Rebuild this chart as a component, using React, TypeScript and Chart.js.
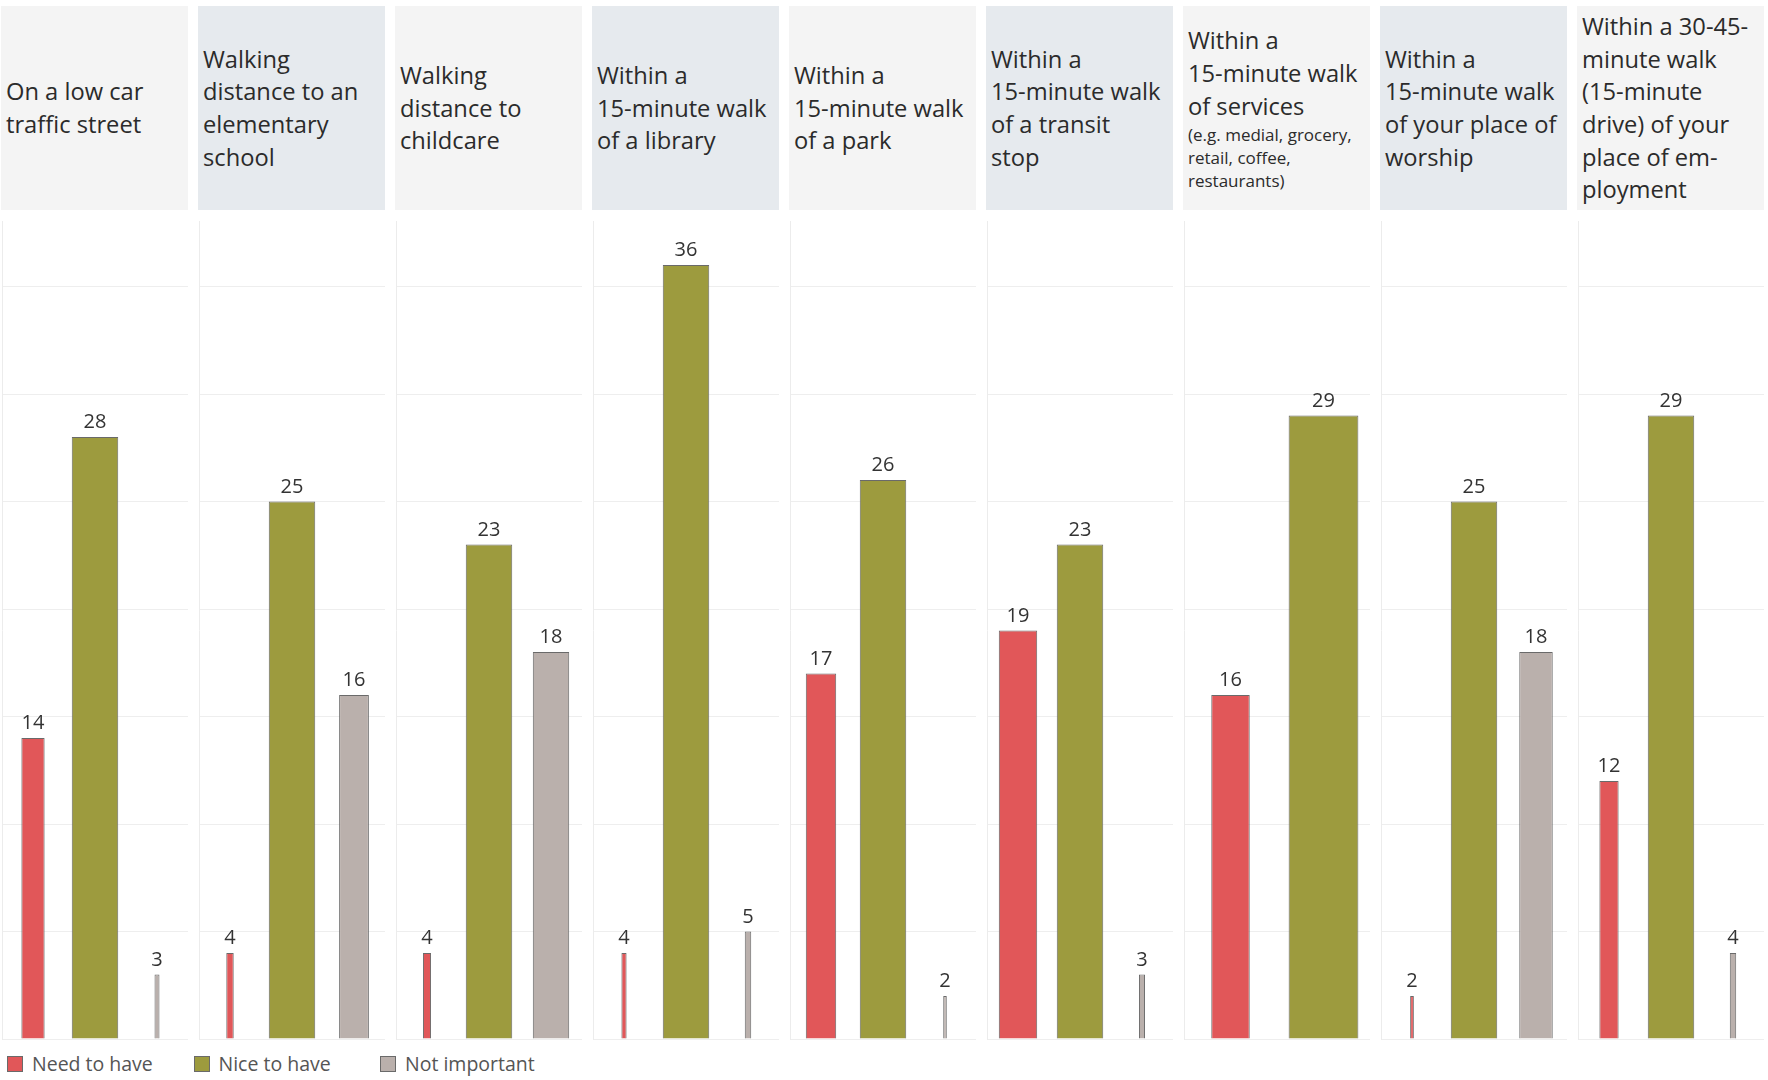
import React, { useEffect, useRef } from "react";
import { Chart, registerables } from "chart.js";

Chart.register(...registerables);

// ---------- data ----------
const seriesNames = ["Need to have", "Nice to have", "Not important"];
const seriesColors = ["#e15759", "#9d9b3e", "#bab0ac"];

const needToHave: (number | null)[] = [14, 4, 4, 4, 17, 19, 16, 2, 12];
const niceToHave: (number | null)[] = [28, 25, 23, 36, 26, 23, 29, 25, 29];
const notImportant: (number | null)[] = [3, 16, 18, 5, 2, 3, null, 18, 4];

const headerLines: string[][] = [
  ["On a low car", "traffic street"],
  ["Walking", "distance to an", "elementary", "school"],
  ["Walking", "distance to", "childcare"],
  ["Within a", "15-minute walk", "of a library"],
  ["Within a", "15-minute walk", "of a park"],
  ["Within a", "15-minute walk", "of a transit", "stop"],
  ["Within a", "15-minute walk", "of services"],
  ["Within a", "15-minute walk", "of your place of", "worship"],
  ["Within a 30-45-", "minute walk", "(15-minute", "drive) of your", "place of em-", "ployment"],
];
const headerNotes: string[][] = [
  [], [], [], [], [], [],
  ["(e.g. medial, grocery,", "retail, coffee,", "restaurants)"],
  [], [],
];

// ---------- layout / style ----------
const FONT = "'Open Sans', 'Noto Sans', sans-serif";
const Y_MAX = 38.05;
const GRID_STEP = 5;
const PANEL_STEP = 197;
const PANEL_W = 187;
const PANEL_X0 = 1;
const HEADER_TOP = 6;
const HEADER_H = 204;
const PLOT_TOP = 221;
const CANVAS_H = 820;
const HEADER_BG = ["#f4f4f4", "#e6eaee"];

const panelLeft = (i: number) => Math.round(PANEL_X0 + i * PANEL_STEP);

function Panel({ idx }: { idx: number }) {
  const ref = useRef<HTMLCanvasElement>(null);

  useEffect(() => {
    const vals = [needToHave[idx], niceToHave[idx], notImportant[idx]];
    const present = [0, 1, 2].filter((i) => vals[i] !== null && vals[i] !== undefined);
    const max = Math.max(...present.map((i) => vals[i] as number));
    const labels = present.map((i) => seriesNames[i]);
    const datasets = present.map((si, k) => ({
      label: seriesNames[si],
      data: present.map((_, j) => (j === k ? vals[si] : null)),
      backgroundColor: seriesColors[si],
      borderColor: "#6a6a6a",
      borderWidth: 1,
      grouped: false,
      barPercentage: (0.75 * (vals[si] as number)) / max,
      categoryPercentage: 1,
    }));

    const labelPlugin = {
      id: "valueLabels",
      afterDatasetsDraw(chart: any) {
        const c = chart.ctx;
        c.save();
        c.font = `20px ${FONT}`;
        c.fillStyle = "#333333";
        c.textAlign = "center";
        c.textBaseline = "alphabetic";
        chart.data.datasets.forEach((ds: any, di: number) => {
          const meta = chart.getDatasetMeta(di);
          meta.data.forEach((el: any, j: number) => {
            const v = ds.data[j];
            if (v === null || v === undefined) return;
            c.fillText(String(v), el.x, el.y - 9);
          });
        });
        c.restore();
      },
    };

    const chart = new Chart(ref.current as HTMLCanvasElement, {
      type: "bar",
      data: { labels, datasets: datasets as any },
      options: {
        animation: false,
        responsive: false,
        maintainAspectRatio: false,
        layout: { padding: { top: 0, bottom: 2, left: 1, right: 0 } },
        plugins: { legend: { display: false }, tooltip: { enabled: false } },
        scales: {
          x: { display: false },
          y: {
            min: 0,
            max: Y_MAX,
            ticks: { display: false, stepSize: GRID_STEP, includeBounds: false },
            grid: {
              drawTicks: false,
              lineWidth: 1,
              color: (ctx: any) =>
                ctx.tick && Math.abs(ctx.tick.value % GRID_STEP) < 1e-6 ? "#eeeeee" : "rgba(0,0,0,0)",
            },
            border: { display: true, color: "#ececec", width: 1 },
          },
        },
      } as any,
      plugins: [labelPlugin],
    });
    return () => chart.destroy();
  }, [idx]);

  const left = panelLeft(idx);
  return (
    <>
      <div
        style={{
          position: "absolute",
          left,
          top: HEADER_TOP,
          width: PANEL_W,
          height: HEADER_H,
          background: HEADER_BG[idx % 2],
          display: "flex",
          flexDirection: "column",
          justifyContent: "center",
          paddingLeft: 5,
          boxSizing: "border-box",
          color: "#2b2b2b",
          fontFamily: FONT,
          whiteSpace: "nowrap",
        }}
      >
        {headerLines[idx].map((l, i) => (
          <div key={i} style={{ fontSize: 23.7, lineHeight: "32.7px" }}>
            {l}
          </div>
        ))}
        {headerNotes[idx].map((l, i) => (
          <div key={"n" + i} style={{ fontSize: 17, lineHeight: "23px" }}>
            {l}
          </div>
        ))}
      </div>
      <canvas
        ref={ref}
        width={PANEL_W}
        height={CANVAS_H}
        style={{ position: "absolute", left, top: PLOT_TOP, width: PANEL_W, height: CANVAS_H, display: "block" }}
      />
    </>
  );
}

function Legend() {
  return (
    <div style={{ position: "absolute", left: 7, top: 1055, height: 17, display: "flex", fontFamily: FONT }}>
      {seriesNames.map((n, i) => (
        <div key={n} style={{ width: 186.5, display: "flex", alignItems: "center" }}>
          <div
            style={{
              width: 16,
              height: 16,
              boxSizing: "border-box",
              background: seriesColors[i],
              border: "1px solid #6a6a6a",
              marginRight: 9,
            }}
          />
          <span style={{ fontSize: 19.5, color: "#555555", lineHeight: "17px" }}>{n}</span>
        </div>
      ))}
    </div>
  );
}

export default function App() {
  return (
    <div
      style={{
        position: "absolute",
        left: 0,
        top: 0,
        width: 1768,
        height: 1080,
        background: "#ffffff",
        overflow: "hidden",
      }}
    >
      {headerLines.map((_, i) => (
        <Panel key={i} idx={i} />
      ))}
      <Legend />
    </div>
  );
}
